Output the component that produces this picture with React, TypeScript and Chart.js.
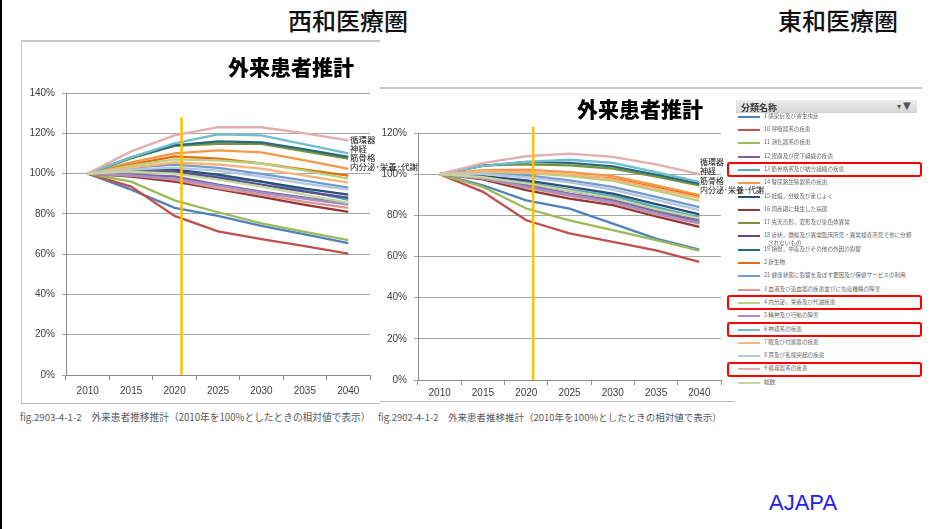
import React, { useEffect, useRef } from 'react';
import { Chart, registerables } from 'chart.js';

Chart.register(...registerables);

// ---------- data ----------
const YEARS = ['2010', '2015', '2020', '2025', '2030', '2035', '2040'];

const CATEGORY_NAMES = [
  '1 感染症及び寄生虫症',
  '10 呼吸器系の疾患',
  '11 消化器系の疾患',
  '12 皮膚及び皮下組織の疾患',
  '13 筋骨格系及び結合組織の疾患',
  '14 腎尿路生殖器系の疾患',
  '15 妊娠，分娩及び産じょく',
  '16 周産期に発生した病態',
  '17 先天奇形，変形及び染色体異常',
  '18 症状，徴候及び異常臨床所見・異常検査所見で他に分類',
  '19 損傷，中毒及びその他の外因の影響',
  '2 新生物',
  '21 健康状態に影響を及ぼす要因及び保健サービスの利用',
  '3 血液及び造血器の疾患並びに免疫機構の障害',
  '4 内分泌，栄養及び代謝疾患',
  '5 精神及び行動の障害',
  '6 神経系の疾患',
  '7 眼及び付属器の疾患',
  '8 耳及び乳様突起の疾患',
  '9 循環器系の疾患',
  '総数',
];
const NAME_18_CONT = 'されないもの';

// 西和医療圏 (relative %, legend order)
const WEST_VALUES: number[][] = [
  [100, 92, 83, 79, 74, 69.8, 65.5],
  [100, 93.5, 79, 71.3, 67.5, 64, 60.2],
  [100, 96, 86.7, 80.8, 75.3, 71, 66.9],
  [100, 99.5, 98.6, 94.5, 91, 88, 85],
  [100, 101, 100.3, 98.6, 96, 91.5, 87],
  [100, 105.5, 110, 111.5, 110.5, 106.5, 102.3],
  [100, 102, 102, 99.5, 96, 92.5, 89.5],
  [100, 98.5, 96, 92.3, 88.4, 84.5, 81],
  [100, 107.5, 113.8, 114.8, 114.7, 111, 107.4],
  [100, 101, 101, 98, 94.5, 91, 88],
  [100, 108, 114, 116, 115.5, 112, 108.3],
  [100, 104.5, 108.5, 107.4, 105, 102, 99],
  [100, 103, 104.4, 102.8, 99.8, 96.5, 93],
  [100, 99, 97, 92.8, 89.5, 86, 83],
  [100, 104, 107, 106.6, 105, 101.5, 97.5],
  [100, 99, 97.5, 94, 90.5, 87.5, 84.6],
  [100, 108, 115, 119.5, 119, 114.5, 110],
  [100, 103, 105.5, 104.5, 102.5, 99, 95.5],
  [100, 102, 103, 101.5, 98.5, 95, 92],
  [100, 111, 119, 123, 123, 120, 116.5],
  [100, 101, 100, 97, 93.5, 89.5, 85.4],
];

// 東和医療圏 (relative %, legend order)
const EAST_VALUES: number[][] = [
  [100, 94.6, 87.3, 83.3, 76, 68.7, 63.4],
  [100, 91.4, 77.6, 71.2, 67.1, 63, 57.4],
  [100, 93.8, 83.3, 77.6, 72.8, 68, 62.8],
  [100, 98, 94.6, 90.6, 87.3, 82, 76.8],
  [100, 99, 96, 92.5, 89.5, 84, 79],
  [100, 102, 102.2, 101, 99, 94.5, 89.8],
  [100, 99, 97, 93.8, 90.6, 85.5, 80.5],
  [100, 97.5, 92.2, 88.1, 85, 79.5, 74.4],
  [100, 104.3, 104.8, 104.3, 102.7, 98.8, 94.6],
  [100, 98.5, 95.5, 92, 88.5, 83, 78],
  [100, 104, 106, 105.5, 103.8, 99.8, 95.4],
  [100, 101.5, 101, 99.5, 97.8, 93.5, 89],
  [100, 100.5, 99.5, 97, 93.8, 89, 84],
  [100, 98, 93.5, 89.5, 86, 80.5, 76],
  [100, 101, 100.6, 99, 96.7, 92, 87],
  [100, 98, 94, 90, 86.5, 81, 76.3],
  [100, 104, 106, 107, 105.5, 101, 96.2],
  [100, 101.5, 101, 100, 97.5, 93, 88.5],
  [100, 100, 98.5, 96, 92.5, 87.5, 82.5],
  [100, 105.4, 108.7, 110, 108.4, 104.8, 100],
  [100, 98.5, 95.5, 92, 88.5, 83, 78.5],
];

const WEST_Y_MAX = 140;
const EAST_Y_MAX = 120;
const Y_STEP = 20;
const MARKER_YEAR = 2020.8;
const WEST_MARKER_TOP = 128;
const EAST_MARKER_TOP = 123;

const LINE_LABELS = ['循環器', '神経', '筋骨格', '内分泌･栄養･代謝'];
const HIGHLIGHTED = ['13', '4', '6', '9'];

// ---------- styles ----------
const SERIES_COLORS = [
  '#4F81BD', '#C0504D', '#9BBB59', '#8064A2', '#4BACC6', '#F79646',
  '#2C4D75', '#943634', '#77933C', '#5F4B8B', '#276A7C', '#E46C0A',
  '#729ACA', '#D99694', '#B7D17F', '#A58FC4', '#6FBDD1', '#FAB47A',
  '#B3C6E3', '#E3AFAE', '#C3D69B',
];

const TICK_FONT = { family: '"Liberation Sans", Arial, sans-serif', size: 10 };
const TICK_COLOR = '#404040';
const JP = '"Noto Sans CJK JP", "Noto Sans", sans-serif';

type Box = { x: number; y: number; w: number; h: number };

function TrendChart(props: {
  values: number[][];
  yMax: number;
  markerTop: number;
  box: Box;
  yAxisWidth: number;
  padTop: number;
  padRight: number;
  xLabelPad: number;
}) {
  const ref = useRef<HTMLCanvasElement>(null);
  useEffect(() => {
    const { values, yMax, markerTop, yAxisWidth, padTop, padRight, xLabelPad } = props;
    const markerPlugin = {
      id: 'marker',
      afterDatasetsDraw(chart: any) {
        const xs = chart.scales.x;
        const ys = chart.scales.y;
        const i = YEARS.indexOf('2020');
        const p0 = xs.getPixelForValue(i);
        const p1 = xs.getPixelForValue(i + 1);
        const px = p0 + ((p1 - p0) * (MARKER_YEAR - 2020)) / 5;
        const ctx = chart.ctx;
        ctx.save();
        ctx.strokeStyle = '#FFC000';
        ctx.lineWidth = 2.5;
        ctx.beginPath();
        ctx.moveTo(px, ys.getPixelForValue(0));
        ctx.lineTo(px, ys.getPixelForValue(markerTop));
        ctx.stroke();
        ctx.restore();
      },
    };
    const chart = new Chart(ref.current as HTMLCanvasElement, {
      type: 'line',
      data: {
        labels: YEARS,
        datasets: values.map((v, i) => ({
          label: CATEGORY_NAMES[i],
          data: v,
          borderColor: SERIES_COLORS[i],
          backgroundColor: SERIES_COLORS[i],
          borderWidth: 2.3,
          pointRadius: 0,
          fill: false,
          tension: 0,
          order: -i,
        })),
      },
      options: {
        animation: false,
        responsive: false,
        maintainAspectRatio: false,
        devicePixelRatio: 1,
        layout: { padding: { top: padTop, right: padRight, bottom: 3, left: 0 } },
        plugins: { legend: { display: false }, tooltip: { enabled: false }, title: { display: false } },
        scales: {
          x: {
            offset: true,
            grid: { offset: true, drawOnChartArea: false, drawTicks: true, tickLength: 5, color: '#8C8C8C' },
            border: { color: '#8C8C8C', width: 1 },
            ticks: { font: TICK_FONT, color: TICK_COLOR, padding: xLabelPad, maxRotation: 0, autoSkip: false },
            afterFit: (s: any) => { s.height = 22; },
          },
          y: {
            min: 0,
            max: yMax,
            ticks: { stepSize: Y_STEP, font: TICK_FONT, color: TICK_COLOR, padding: 7, callback: (v: any) => v + '%' },
            grid: { color: '#A6A6A6', tickLength: 4, lineWidth: 1 },
            border: { color: '#8C8C8C', width: 1 },
            afterFit: (s: any) => { s.width = yAxisWidth; },
          },
        },
      },
      plugins: [markerPlugin],
    } as any);
    return () => chart.destroy();
  }, []);
  const b = props.box;
  return (
    <canvas
      ref={ref}
      width={b.w}
      height={b.h}
      style={{ position: 'absolute', left: b.x, top: b.y, width: b.w, height: b.h }}
    />
  );
}

function Txt(props: { x: number; y: number; size: number; children: any; weight?: number; color?: string; center?: boolean; family?: string; style?: any }) {
  return (
    <div
      style={{
        position: 'absolute',
        left: props.x,
        top: props.y,
        transform: props.center ? 'translate(-50%, -50%)' : 'translate(0, -50%)',
        fontFamily: props.family || JP,
        fontSize: props.size,
        fontWeight: props.weight || 400,
        color: props.color || '#000',
        whiteSpace: 'nowrap',
        lineHeight: 1,
        zIndex: 5,
        ...(props.style || {}),
      }}
    >
      {props.children}
    </div>
  );
}

function Legend() {
  const top0 = 116.7;
  const step = 13.3;
  return (
    <>
      <div
        style={{
          position: 'absolute', left: 736, top: 100, width: 181, height: 13,
          background: 'linear-gradient(#EDEDED, #D5D5D5)', zIndex: 3,
        }}
      />
      <Txt x={741} y={106.5} size={9} weight={700} color="#3A3A3A">分類名称</Txt>
      <Txt x={897} y={107} size={8} weight={700} color="#555" family="DejaVu Sans">▾</Txt>
      <Txt x={903} y={106} size={10} weight={700} color="#555" family="DejaVu Sans">▼</Txt>
      {CATEGORY_NAMES.map((n, i) => {
        const cy = top0 + step * i;
        return (
          <React.Fragment key={n}>
            <div style={{ position: 'absolute', left: 738, top: cy - 1, width: 22, height: 2, background: SERIES_COLORS[i], zIndex: 4 }} />
            <Txt x={764} y={cy} size={5.6} color="#666">{n}</Txt>
            {i === 9 ? <Txt x={768} y={cy + 7.3} size={5.6} color="#666">{NAME_18_CONT}</Txt> : null}
          </React.Fragment>
        );
      })}
      {HIGHLIGHTED.map((h) => {
        const i = CATEGORY_NAMES.findIndex((n) => n.split(' ')[0] === h);
        const cy = top0 + step * i;
        return (
          <div
            key={h}
            style={{
              position: 'absolute', left: 727, top: cy - 7.5, width: 191, height: 11,
              border: '2.5px solid #FF0000', borderRadius: 3, zIndex: 6,
            }}
          />
        );
      })}
    </>
  );
}

export default function App() {
  return (
    <div style={{ position: 'fixed', left: 0, top: 0, width: 939, height: 529, background: '#fff', overflow: 'hidden' }}>
      {/* slide border */}
      <div style={{ position: 'absolute', left: 0, top: 0, width: 2, height: 529, background: '#000' }} />

      {/* frames */}
      <div style={{ position: 'absolute', left: 21, top: 40, width: 359, height: 2, background: '#C8C8C8' }} />
      <div style={{ position: 'absolute', left: 21, top: 40, width: 1, height: 364, background: '#C8C8C8' }} />
      <div style={{ position: 'absolute', left: 21, top: 403, width: 359, height: 1, background: '#B8B8B8' }} />
      <div style={{ position: 'absolute', left: 380, top: 87, width: 542, height: 2, background: '#C8C8C8' }} />
      <div style={{ position: 'absolute', left: 380, top: 401, width: 355, height: 1, background: '#B8B8B8' }} />

      <Txt x={348} y={20} size={24} weight={500} center color="#111">西和医療圏</Txt>
      <Txt x={838} y={20} size={24} weight={500} center color="#111">東和医療圏</Txt>

      <Txt x={291} y={66} size={21} weight={900} center>外来患者推計</Txt>
      <Txt x={640} y={108} size={21} weight={900} center>外来患者推計</Txt>

      <TrendChart
        values={WEST_VALUES}
        yMax={WEST_Y_MAX}
        markerTop={WEST_MARKER_TOP}
        box={{ x: 20, y: 80, w: 360, h: 320 }}
        yAxisWidth={46}
        padTop={13}
        padRight={10}
        xLabelPad={5}
      />
      <TrendChart
        values={EAST_VALUES}
        yMax={EAST_Y_MAX}
        markerTop={EAST_MARKER_TOP}
        box={{ x: 380, y: 120, w: 350, h: 285 }}
        yAxisWidth={38}
        padTop={13}
        padRight={9}
        xLabelPad={2}
      />

      {LINE_LABELS.map((t, i) => (
        <Txt key={'w' + t} x={350} y={138.5 + 9.3 * i} size={8.5} color="#111">{t}</Txt>
      ))}
      {LINE_LABELS.map((t, i) => (
        <Txt key={'e' + t} x={700} y={161.7 + 9.4 * i} size={8} color="#111">{t}</Txt>
      ))}

      <Legend />

      <Txt x={20} y={418} size={9.7} color="#595959">fig.2903-4-1-2　外来患者推移推計（2010年を100%としたときの相対値で表示）</Txt>
      <Txt x={378} y={418} size={9.5} color="#595959">fig.2902-4-1-2　外来患者推移推計（2010年を100%としたときの相対値で表示）</Txt>

      <Txt x={769} y={503} size={22} color="#2222EE" family='"Liberation Sans", Arial, sans-serif'>AJAPA</Txt>
    </div>
  );
}
